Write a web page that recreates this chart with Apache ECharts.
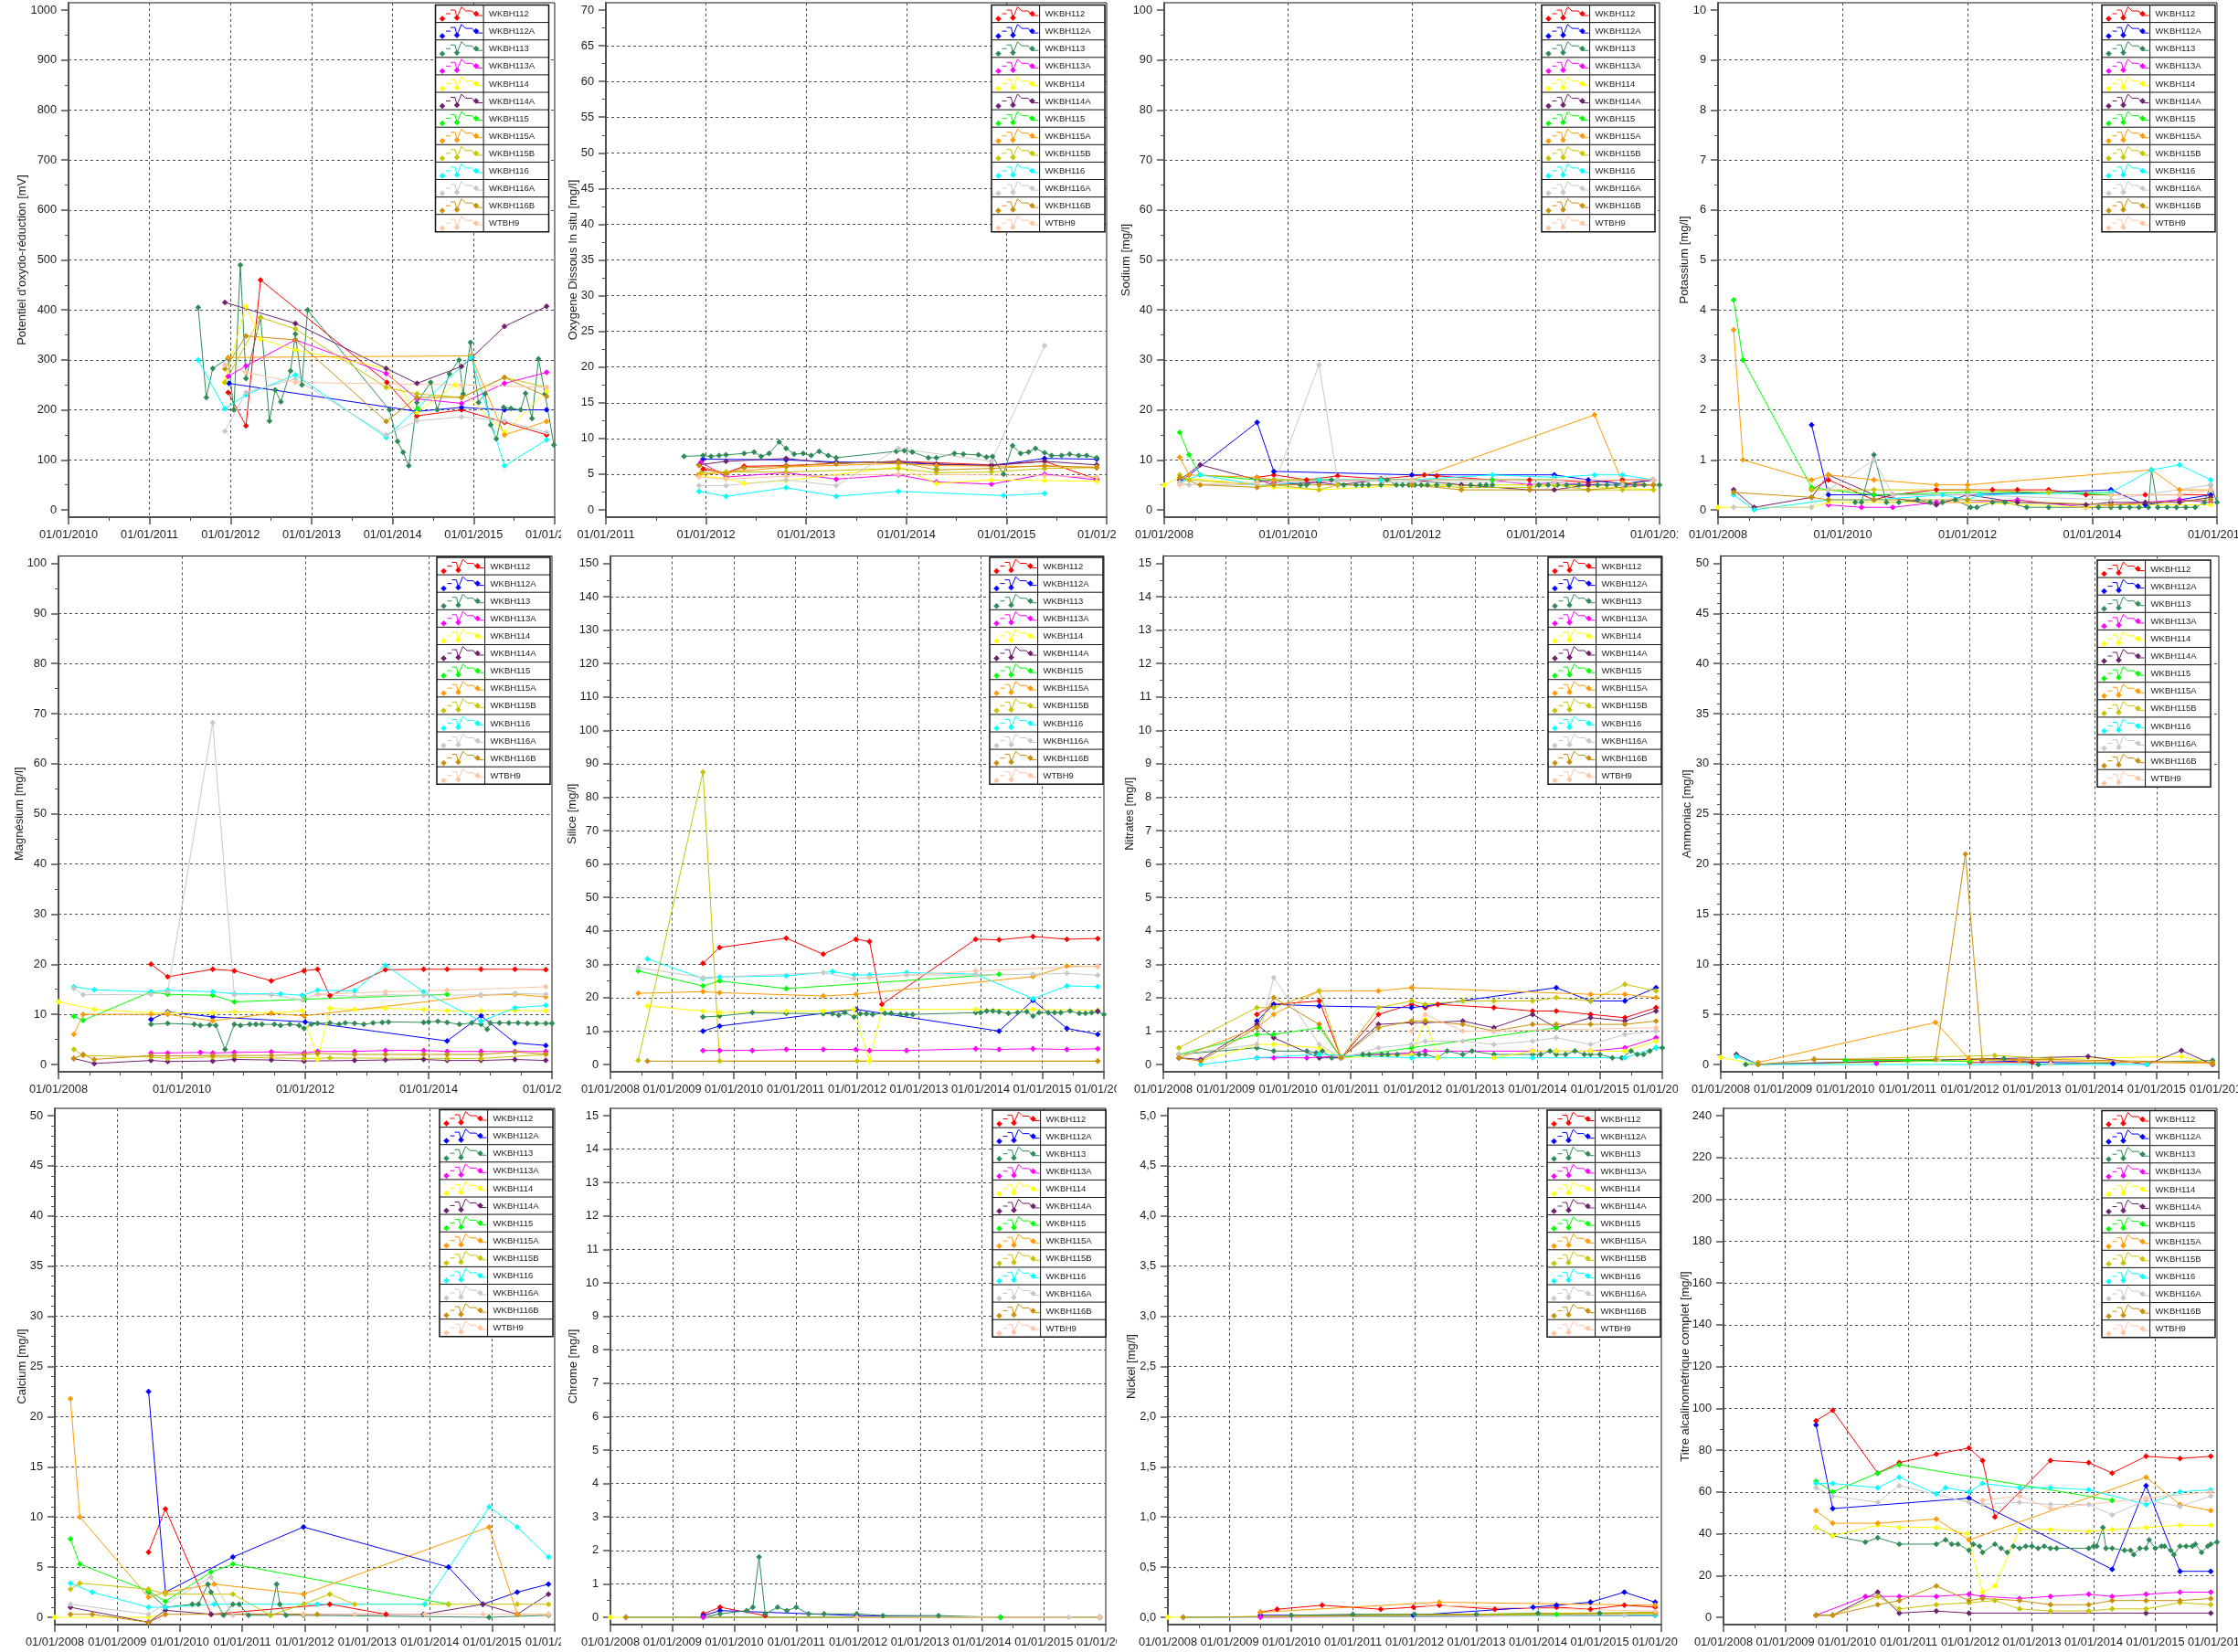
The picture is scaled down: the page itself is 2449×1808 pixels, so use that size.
<!DOCTYPE html>
<html>
<head>
<meta charset="utf-8">
<script src="https://cdn.jsdelivr.net/npm/echarts@6/dist/echarts.min.js"></script>
<style>
  html, body { margin: 0; padding: 0; background: #fff; }
  #page { position: relative; width: 2449px; height: 1808px; overflow: hidden; background: #fff; }
  .panel { position: absolute; overflow: hidden; }
</style>
</head>
<body>
<div id="page"></div>
<script>
// Monitoring wells and their colours (series order used by every data table below)
const wells = ['WKBH112','WKBH112A','WKBH113','WKBH113A','WKBH114','WKBH114A','WKBH115',
               'WKBH115A','WKBH115B','WKBH116','WKBH116A','WKBH116B','WTBH9'];
const wellColors = ['#ff0000','#0000ff','#2e8b57','#ff00ff','#ffff00','#6e2070','#00ff00',
                    '#ff9a00','#c8c400','#00ffff','#c8c8c8','#c8900a','#ffc4a4'];

// Sample dates are decimal years; each table lists one [date, value] list per well.
const redox = [
  [[2011.97,235],[2012.19,168],[2012.37,460],[2013.93,255],[2014.3,188],[2014.85,200],[2015.38,175],[2015.9,150]],
  [[2011.98,253],[2014.3,197],[2014.85,205],[2015.38,200],[2015.9,200]],
  [[2011.6,405],[2011.7,225],[2011.78,283],[2011.97,303],[2012.04,200],[2012.12,490],[2012.19,263],[2012.37,385],[2012.48,178],[2012.55,240],[2012.62,216],[2012.74,278],[2012.8,352],[2012.88,250],[2012.95,400],[2013.96,200],[2014.06,137],[2014.13,115],[2014.2,88],[2014.3,215],[2014.47,255],[2014.55,200],[2014.7,272],[2014.82,300],[2014.87,232],[2014.96,335],[2015.06,215],[2015.14,232],[2015.21,170],[2015.28,142],[2015.37,205],[2015.46,203],[2015.58,200],[2015.64,233],[2015.72,183],[2015.8,302],[2015.88,232],[2015.99,130]],
  [[2011.97,267],[2012.19,288],[2012.8,340],[2013.92,273],[2014.3,222],[2014.85,213],[2015.38,253],[2015.9,275]],
  [[2011.92,255],[2012.19,407],[2012.37,342],[2012.8,320],[2013.92,283],[2014.3,195],[2014.77,250],[2015.38,155],[2015.9,237]],
  [[2011.93,415],[2012.8,373],[2013.92,283],[2014.3,253],[2014.85,287],[2014.98,305],[2015.38,367],[2015.9,407]],
  [[2014.31,203]],
  [[2011.97,305],[2014.97,308],[2015.38,150],[2015.9,177]],
  [[2011.93,255],[2012.37,385],[2012.8,362],[2013.92,245],[2014.3,232],[2014.85,225],[2015.38,265],[2015.9,245]],
  [[2011.6,300],[2011.93,202],[2012.19,230],[2012.8,270],[2013.92,145],[2014.97,305],[2015.38,88],[2015.9,140]],
  [[2011.93,157],[2012.19,235],[2012.8,262],[2013.92,150],[2014.3,178],[2014.85,186],[2015.38,178],[2015.9,155]],
  [[2011.93,282],[2012.19,348],[2012.8,340],[2013.92,177],[2014.3,225],[2014.85,225],[2015.38,265],[2015.9,227]],
  [[2011.93,290],[2012.19,275],[2012.8,255],[2014.85,250],[2015.9,245]]
];

const oxygen = [
  [[2011.97,5.7],[2012.2,5.2],[2012.38,6.1],[2012.8,6.2],[2013.3,6.5],[2013.92,6.8],[2014.85,6.3],[2015.38,6.8],[2015.9,4.3]],
  [[2011.97,7.1],[2012.8,7.0],[2013.3,6.7],[2013.92,6.6],[2014.3,6.4],[2014.85,6.2],[2015.38,7.2],[2015.9,7.1]],
  [[2011.78,7.5],[2011.97,7.6],[2012.05,7.5],[2012.13,7.6],[2012.2,7.7],[2012.38,7.9],[2012.48,8.1],[2012.55,7.5],[2012.63,7.9],[2012.73,9.5],[2012.8,8.6],[2012.88,7.8],[2012.97,7.9],[2013.05,7.6],[2013.13,8.2],[2013.22,7.6],[2013.3,7.3],[2013.9,8.2],[2013.98,8.3],[2014.06,8.1],[2014.22,7.3],[2014.3,7.3],[2014.48,7.9],[2014.57,7.8],[2014.72,7.7],[2014.8,7.4],[2014.86,7.5],[2014.97,5.0],[2015.06,9.0],[2015.14,7.9],[2015.22,8.1],[2015.29,8.6],[2015.38,8.0],[2015.45,7.6],[2015.55,7.6],[2015.63,7.8],[2015.72,7.6],[2015.8,7.6],[2015.9,7.3]],
  [[2011.95,6.7],[2012.2,4.6],[2012.8,5.2],[2013.3,4.3],[2013.92,4.9],[2014.3,3.9],[2014.85,3.6],[2015.38,5.0],[2015.9,4.2]],
  [[2011.92,4.8],[2012.2,4.4],[2012.38,3.7],[2012.8,4.1],[2013.92,6.0],[2014.3,3.7],[2014.85,4.2],[2015.38,4.1],[2015.9,4.0]],
  [[2011.93,6.3],[2012.2,6.8],[2012.8,7.2],[2013.3,6.5],[2013.92,6.8],[2014.3,6.4],[2014.85,6.2],[2015.38,6.8],[2015.9,6.3]],
  [[2014.3,5.8]],
  [[2011.92,4.9],[2012.8,6.0],[2013.92,6.5],[2014.3,6.2],[2015.9,6.0]],
  [[2011.95,5.2],[2012.2,5.3],[2012.8,5.3],[2013.92,5.8],[2014.3,5.2],[2014.85,5.3],[2015.38,5.8],[2015.9,5.9]],
  [[2011.93,2.6],[2012.2,1.9],[2012.8,3.1],[2013.3,1.9],[2013.92,2.6],[2014.97,2.0],[2015.38,2.3]],
  [[2011.93,3.4],[2012.2,3.4],[2012.8,4.2],[2013.3,3.4],[2013.92,8.6],[2014.85,6.8],[2015.38,23]],
  [[2011.93,6.2],[2012.2,5.0],[2012.38,5.9],[2012.8,6.1],[2013.3,6.5],[2013.92,6.7],[2014.3,5.6],[2014.85,5.8],[2015.38,6.2],[2015.9,5.9]],
  [[2011.93,4.6],[2012.2,4.3],[2012.8,4.7],[2013.92,5.0],[2015.38,4.8],[2015.9,4.6]]
];

const sodium = [
  [[2009.5,6.5],[2009.77,7.0],[2010.3,6.0],[2010.8,6.8],[2011.5,6.2],[2012.2,7.0],[2012.4,6.8],[2013.3,6.0],[2013.9,6.0],[2014.3,6.0],[2014.85,5.5],[2015.4,6.0],[2015.9,6.0]],
  [[2008.25,5.5],[2009.5,17.5],[2009.77,7.7],[2012.0,7.0],[2014.3,7.0],[2014.85,6.0],[2015.4,5.2],[2015.9,6.0]],
  [[2009.5,5.5],[2009.77,6.0],[2010.2,5.0],[2010.3,5.0],[2010.5,6.0],[2010.7,6.0],[2010.9,5.0],[2011.1,5.0],[2011.2,5.0],[2011.3,5.0],[2011.5,5.0],[2011.6,6.0],[2011.75,5.0],[2011.85,5.0],[2011.95,5.0],[2012.05,5.0],[2012.15,5.0],[2012.25,5.0],[2012.4,5.0],[2012.6,5.0],[2012.8,5.0],[2012.95,5.0],[2013.1,5.0],[2013.2,5.0],[2013.3,5.0],[2013.9,5.0],[2014.05,5.0],[2014.2,5.0],[2014.35,5.0],[2014.5,5.0],[2014.7,5.0],[2014.85,5.0],[2015.0,5.0],[2015.15,5.0],[2015.3,5.0],[2015.45,5.0],[2015.6,5.0],[2015.75,5.0],[2015.9,5.0],[2016.0,5.0]],
  [[2009.5,6.0],[2009.77,5.5],[2012.0,6.0],[2013.3,6.0],[2013.9,5.0],[2014.3,5.5],[2014.85,5.0],[2015.4,5.0],[2015.9,5.0]],
  [[2008.0,5.0],[2008.25,6.5],[2009.5,5.0],[2009.77,4.5],[2010.5,4.0],[2012.0,5.0],[2014.3,5.0],[2015.9,4.0]],
  [[2008.25,6.0],[2008.58,9.0],[2009.5,6.0],[2009.77,5.0],[2010.5,5.5],[2010.8,5.0],[2011.5,6.0],[2012.0,6.0],[2012.8,5.0],[2013.9,4.0],[2014.3,4.0],[2014.85,5.0],[2015.4,5.0],[2015.9,6.0]],
  [[2008.25,15.5],[2008.4,11.0],[2008.58,7.0],[2009.5,6.0],[2009.77,6.0],[2010.5,6.0],[2011.5,6.0],[2012.0,6.0],[2013.3,6.0],[2014.3,6.0]],
  [[2008.25,10.5],[2008.4,7.0],[2009.5,6.5],[2009.77,6.0],[2012.0,6.0],[2014.95,19.0],[2015.4,5.5],[2015.9,5.0]],
  [[2008.25,7.0],[2008.4,6.0],[2009.5,5.0],[2009.77,5.0],[2010.5,4.0],[2010.8,5.0],[2012.0,5.0],[2012.8,4.5],[2013.9,4.5],[2014.3,5.0],[2014.85,4.0],[2015.4,4.0],[2015.9,4.0]],
  [[2008.25,5.5],[2008.58,7.0],[2009.5,5.0],[2009.77,5.0],[2010.5,6.0],[2010.8,6.0],[2011.5,6.0],[2012.0,6.0],[2013.3,7.0],[2014.3,6.5],[2014.95,7.0],[2015.4,7.0],[2015.9,6.0]],
  [[2008.25,5.5],[2008.4,5.0],[2009.5,5.0],[2009.77,5.0],[2010.5,29.0],[2010.8,6.0],[2012.0,5.5],[2014.3,5.5],[2015.4,5.0]],
  [[2008.25,6.5],[2008.58,5.0],[2009.5,4.5],[2009.77,5.0],[2010.5,5.0],[2012.0,5.0],[2012.8,4.0],[2013.9,4.0],[2014.85,4.0],[2015.9,5.0]],
  [[2008.25,5.0],[2009.5,5.5],[2012.0,6.0],[2014.3,6.0],[2015.9,6.0]]
];

const potassium = [
  [[2009.5,0.4],[2009.77,0.6],[2010.5,0.2],[2010.8,0.3],[2011.5,0.4],[2012.0,0.4],[2012.4,0.4],[2012.8,0.4],[2013.3,0.4],[2013.9,0.3],[2014.3,0.3],[2014.85,0.3],[2015.4,0.3],[2015.9,0.3]],
  [[2009.5,1.7],[2009.77,0.3],[2010.5,0.3],[2012.0,0.3],[2014.3,0.4],[2014.85,0.1],[2015.4,0.2],[2015.9,0.3]],
  [[2010.2,0.15],[2010.3,0.15],[2010.5,1.1],[2010.7,0.15],[2010.9,0.15],[2011.2,0.2],[2011.4,0.15],[2011.6,0.15],[2011.8,0.2],[2012.05,0.05],[2012.15,0.05],[2012.4,0.15],[2012.6,0.15],[2012.95,0.05],[2013.3,0.05],[2013.9,0.05],[2014.1,0.05],[2014.3,0.05],[2014.45,0.05],[2014.6,0.05],[2014.75,0.05],[2014.9,0.05],[2014.95,0.8],[2015.05,0.05],[2015.2,0.05],[2015.35,0.05],[2015.5,0.05],[2015.65,0.05],[2015.8,0.15],[2015.9,0.5],[2016.0,0.15]],
  [[2009.77,0.1],[2010.3,0.05],[2010.8,0.05],[2011.5,0.15],[2012.0,0.15],[2012.8,0.2],[2013.9,0.05],[2014.3,0.1],[2015.4,0.2],[2015.9,0.15]],
  [[2008.0,0.05],[2009.5,0.05],[2009.77,0.15],[2012.0,0.15],[2013.9,0.05],[2014.3,0.1],[2015.9,0.1]],
  [[2008.25,0.4],[2008.58,0.05],[2009.5,0.25],[2009.77,0.7],[2010.5,0.3],[2011.5,0.1],[2012.0,0.3],[2012.8,0.15],[2013.9,0.1],[2014.3,0.15],[2014.85,0.15],[2015.4,0.15],[2015.9,0.25]],
  [[2008.25,4.2],[2008.4,3.0],[2009.5,0.45],[2009.77,0.4],[2010.5,0.3],[2012.0,0.35],[2013.3,0.35],[2014.3,0.3]],
  [[2008.25,3.6],[2008.4,1.0],[2009.5,0.6],[2009.77,0.7],[2010.5,0.6],[2011.5,0.5],[2012.0,0.5],[2014.95,0.8],[2015.4,0.4],[2015.9,0.4]],
  [[2009.5,0.4],[2009.77,0.4],[2010.5,0.4],[2012.0,0.4],[2013.3,0.35],[2014.3,0.35]],
  [[2008.25,0.3],[2008.58,0.0],[2009.77,0.2],[2010.5,0.2],[2011.6,0.3],[2012.0,0.2],[2012.2,0.3],[2014.3,0.35],[2014.95,0.8],[2015.4,0.9],[2015.9,0.6]],
  [[2008.25,0.05],[2009.5,0.05],[2009.77,0.4],[2010.5,1.0],[2010.8,0.3],[2012.0,0.3],[2014.3,0.2],[2015.9,0.5]],
  [[2008.25,0.35],[2009.5,0.25],[2009.77,0.2],[2010.5,0.2],[2012.0,0.2],[2014.3,0.1],[2015.9,0.2]],
  [[2014.3,0.3],[2015.4,0.3],[2015.9,0.4]]
];

const magnesium = [
  [[2009.5,20],[2009.77,17.5],[2010.5,19],[2010.85,18.7],[2011.45,16.7],[2011.98,18.7],[2012.2,19],[2012.4,13.7],[2013.3,18.9],[2013.92,19],[2014.3,19],[2014.85,19],[2015.4,19],[2015.9,18.9]],
  [[2009.5,9],[2009.77,10.5],[2010.5,9.5],[2012.0,8.5],[2014.3,4.7],[2014.85,9.7],[2015.4,4.3],[2015.9,3.8]],
  [[2009.5,8],[2009.77,8.2],[2010.2,8],[2010.3,7.8],[2010.45,7.9],[2010.55,7.8],[2010.7,3.0],[2010.85,8],[2010.95,7.8],[2011.1,8.0],[2011.2,8.0],[2011.3,8.0],[2011.5,8.0],[2011.6,7.8],[2011.75,8.0],[2011.9,7.8],[2011.98,7.2],[2012.1,8.0],[2012.2,8.2],[2012.4,8.3],[2012.55,8.0],[2012.65,8.3],[2012.8,8.2],[2012.95,8.0],[2013.1,8.3],[2013.25,8.4],[2013.35,8.5],[2013.92,8.4],[2014.0,8.5],[2014.15,8.6],[2014.3,8.4],[2014.5,8.0],[2014.7,8.3],[2014.85,8.0],[2014.95,7.0],[2015.0,8.3],[2015.15,8.3],[2015.3,8.3],[2015.45,8.3],[2015.6,8.2],[2015.75,8.2],[2015.9,8.2],[2016.0,8.2]],
  [[2009.5,2.3],[2009.77,2.3],[2010.3,2.4],[2010.5,2.3],[2010.85,2.4],[2011.45,2.5],[2011.98,2.3],[2012.2,2.6],[2012.8,2.6],[2013.3,2.8],[2013.92,2.8],[2014.3,2.6],[2014.85,2.6],[2015.4,2.6],[2015.9,2.6]],
  [[2008.0,12.5],[2008.58,11],[2009.5,10.3],[2009.77,10.3],[2010.5,10.3],[2010.85,10.5],[2011.45,10.3],[2011.95,10.7],[2012.2,1.0],[2012.4,11.2],[2012.8,11],[2013.3,11.2],[2013.92,11],[2014.3,10.7],[2014.85,10.7],[2015.4,10.8],[2015.9,10.7]],
  [[2008.25,1.2],[2008.58,0.2],[2009.5,0.8],[2009.77,0.6],[2010.5,0.7],[2010.85,1.0],[2011.45,0.9],[2011.98,0.7],[2012.8,0.8],[2013.3,0.9],[2013.92,1.0],[2014.3,0.8],[2014.85,0.8],[2015.4,1.0],[2015.9,0.8]],
  [[2008.25,9.6],[2008.4,8.8],[2009.5,14.5],[2009.77,14],[2010.5,13.8],[2010.85,12.5],[2011.98,13],[2014.3,14]],
  [[2008.25,6.0],[2008.4,10],[2009.5,10],[2009.77,10],[2010.5,8.7],[2011.45,10.2],[2011.98,9.7],[2014.85,13.8],[2015.4,14],[2015.9,13.5]],
  [[2008.25,3.0],[2008.4,1.8],[2009.5,1.5],[2009.77,1.2],[2010.5,1.5],[2011.98,1.2],[2012.4,1.3],[2014.3,1.2],[2014.85,1.2],[2015.9,2.0]],
  [[2008.25,15.5],[2008.58,14.9],[2009.5,14.5],[2009.77,14.8],[2010.5,14.5],[2010.85,14.1],[2011.6,14.1],[2011.95,13.8],[2012.2,14.8],[2012.8,14.7],[2013.3,19.8],[2013.92,14.5],[2014.85,8.6],[2015.4,11.3],[2015.9,11.8]],
  [[2008.25,15.2],[2008.4,13.9],[2009.5,14],[2009.77,14.5],[2010.5,68.2],[2010.85,13.9],[2011.45,13.9],[2011.95,12.9],[2012.2,14],[2012.8,13.6],[2013.3,13.9],[2013.92,13.8],[2014.85,13.9],[2015.4,14.2],[2015.9,14]],
  [[2008.25,1.2],[2008.4,2.0],[2008.58,1.0],[2009.5,1.8],[2009.77,1.7],[2010.5,1.8],[2010.85,1.8],[2011.45,1.8],[2011.98,2.0],[2012.2,2.2],[2012.8,2.0],[2013.3,2.0],[2013.92,2.0],[2014.3,2.0],[2014.85,2.0],[2015.4,2.5],[2015.9,2.1]],
  [[2012.2,14],[2013.3,14.5],[2014.3,14.8],[2015.9,15.5]]
];

const silica = [
  [[2009.5,30.3],[2009.77,35],[2010.85,37.8],[2011.45,33],[2011.98,37.5],[2012.2,36.8],[2012.4,18],[2013.92,37.5],[2014.3,37.3],[2014.85,38.3],[2015.4,37.5],[2015.9,37.7]],
  [[2009.5,10],[2009.77,11.5],[2011.98,16.5],[2014.3,10],[2014.85,19.2],[2015.4,10.8],[2015.9,9]],
  [[2009.5,14.2],[2009.77,14.5],[2010.3,15.5],[2010.85,15.3],[2011.45,15.2],[2011.6,15.2],[2011.7,14.8],[2011.8,15.5],[2011.95,14.2],[2012.05,15.2],[2012.15,15.2],[2012.25,15],[2012.45,15.3],[2012.55,15.3],[2012.7,15],[2012.8,15],[2012.9,15],[2013.92,15.5],[2014.0,15.5],[2014.1,16],[2014.2,16],[2014.3,15.8],[2014.45,15.3],[2014.6,15.5],[2014.75,15.8],[2014.85,14.5],[2014.95,15.5],[2015.1,15.5],[2015.2,15.5],[2015.3,15.5],[2015.45,16],[2015.6,15.3],[2015.7,15.3],[2015.8,15.5],[2015.9,15.8],[2016.0,15]],
  [[2009.5,4.2],[2009.77,4.2],[2010.3,4.2],[2010.85,4.5],[2011.45,4.5],[2011.98,4.5],[2012.2,4.2],[2012.8,4.2],[2013.92,4.7],[2014.3,4.5],[2014.85,4.7],[2015.4,4.5],[2015.9,4.7]],
  [[2008.6,17.5],[2009.5,16],[2009.77,15.5],[2010.85,16],[2011.45,16],[2011.95,16.5],[2012.2,1.0],[2012.4,16.5],[2013.92,16.5],[2014.85,16.5],[2015.9,16.2]],
  [[2015.9,16]],
  [[2008.45,28],[2009.5,23.5],[2009.77,25],[2010.85,22.7],[2014.3,27]],
  [[2008.45,21.3],[2009.5,21.8],[2009.77,21.5],[2011.45,20.5],[2011.98,21],[2014.85,26.3],[2015.4,29.5],[2015.9,29.3]],
  [[2008.45,1.2],[2009.5,87.5],[2009.77,1.0],[2012.0,1.0],[2015.9,1.0]],
  [[2008.6,31.6],[2009.5,25.7],[2009.77,26.2],[2010.85,26.5],[2011.6,27.8],[2011.95,26.8],[2012.2,26.8],[2012.8,27.5],[2013.92,27],[2014.85,19.7],[2015.4,23.5],[2015.9,23.3]],
  [[2008.45,29],[2009.5,26],[2011.45,27.5],[2011.95,25.7],[2012.8,26.8],[2013.92,26.8],[2014.85,27],[2015.4,27.3],[2015.9,26.7]],
  [[2008.6,1.0],[2015.9,1.0]],
  [[2012.2,26],[2013.92,28],[2015.9,29.5]]
];

const nitrates = [
  [[2009.5,1.5],[2009.77,1.8],[2010.5,1.9],[2010.85,0.2],[2011.45,1.5],[2011.98,1.8],[2012.2,1.7],[2012.4,1.8],[2013.3,1.7],[2013.92,1.6],[2014.3,1.6],[2014.85,1.5],[2015.4,1.4],[2015.9,1.7]],
  [[2009.5,1.3],[2009.77,1.8],[2010.5,1.75],[2011.98,1.7],[2012.2,1.75],[2014.3,2.3],[2014.85,1.9],[2015.4,1.9],[2015.9,2.3]],
  [[2008.25,0.3],[2009.5,0.5],[2009.77,0.4],[2010.3,0.4],[2010.45,0.35],[2010.55,0.4],[2010.7,0.2],[2010.85,0.2],[2011.2,0.3],[2011.3,0.3],[2011.5,0.3],[2011.6,0.3],[2011.75,0.3],[2011.98,0.3],[2012.1,0.3],[2012.2,0.3],[2012.4,0.2],[2012.55,0.4],[2012.8,0.3],[2012.95,0.4],[2013.3,0.3],[2013.92,0.3],[2014.05,0.3],[2014.2,0.4],[2014.3,0.3],[2014.45,0.3],[2014.6,0.4],[2014.75,0.3],[2014.85,0.3],[2015.0,0.3],[2015.2,0.2],[2015.35,0.2],[2015.5,0.4],[2015.6,0.3],[2015.7,0.3],[2015.8,0.4],[2015.9,0.5],[2016.0,0.5]],
  [[2009.5,0.2],[2009.77,0.2],[2010.3,0.2],[2011.98,0.35],[2012.2,0.4],[2013.92,0.4],[2014.3,0.4],[2014.85,0.4],[2015.4,0.5],[2015.9,0.8]],
  [[2008.6,0.1],[2009.5,0.6],[2009.77,0.6],[2010.5,0.5],[2010.85,0.2],[2011.98,0.3],[2012.2,1.35],[2012.4,0.2],[2013.3,0.2],[2013.92,0.4],[2014.3,0.4],[2014.85,0.4],[2015.4,0.4],[2015.9,0.7]],
  [[2008.25,0.2],[2008.6,0.15],[2009.5,1.2],[2009.77,0.8],[2010.5,0.2],[2010.85,0.2],[2011.45,1.2],[2011.98,1.25],[2012.2,1.25],[2012.8,1.3],[2013.3,1.1],[2013.92,1.5],[2014.3,1.1],[2014.85,1.4],[2015.4,1.3],[2015.9,1.6]],
  [[2008.25,0.3],[2009.5,0.9],[2009.77,0.9],[2010.5,1.1],[2010.85,0.2],[2011.98,0.5],[2014.3,1.1]],
  [[2008.25,0.2],[2009.5,1.1],[2009.77,1.5],[2010.5,2.2],[2011.45,2.2],[2011.98,2.3],[2014.85,2.1],[2015.4,2.1],[2015.9,2.0]],
  [[2008.25,0.5],[2009.5,1.7],[2009.77,1.7],[2010.5,2.2],[2010.85,0.2],[2011.45,1.7],[2011.98,1.9],[2012.2,1.8],[2012.8,1.9],[2013.3,1.9],[2013.92,1.9],[2014.3,2.0],[2014.85,1.9],[2015.4,2.4],[2015.9,2.2]],
  [[2008.6,0.0],[2009.5,0.2],[2010.5,0.3],[2011.98,0.2],[2013.92,0.2],[2015.4,0.2],[2015.9,0.5]],
  [[2008.25,0.3],[2009.5,0.6],[2009.77,2.6],[2010.5,0.6],[2010.85,0.2],[2011.45,0.5],[2011.98,0.6],[2012.2,0.7],[2012.8,0.7],[2013.3,0.6],[2013.92,0.7],[2014.3,0.8],[2014.85,0.6],[2015.4,0.9],[2015.9,1.0]],
  [[2008.25,0.2],[2008.6,0.1],[2009.5,1.1],[2009.77,2.0],[2010.5,1.2],[2010.85,0.2],[2011.45,1.1],[2011.98,1.3],[2012.2,1.3],[2012.8,1.2],[2013.3,1.0],[2013.92,1.2],[2014.3,1.2],[2014.85,1.2],[2015.4,1.2],[2015.9,1.3]],
  [[2011.98,1.0],[2012.2,1.5],[2012.8,1.0],[2013.3,1.0],[2015.9,1.1]]
];

const ammonia = [
  [[2012.0,0.2],[2013.0,0.2]],
  [[2012.2,0.4],[2013.3,0.2],[2014.3,0.1]],
  [[2008.4,0.0],[2012.55,0.6],[2013.1,0.0],[2015.9,0.4]],
  [[2010.5,0.1]],
  [[2008.0,0.7],[2008.6,0.0],[2015.4,0.8],[2015.9,0.1]],
  [[2008.25,1.0],[2008.6,0.0],[2013.9,0.8],[2014.85,0.0],[2015.4,1.4],[2015.9,0.0]],
  [[2010.0,0.4],[2011.0,0.4],[2012.0,0.3]],
  [[2008.6,0.2],[2011.45,4.2],[2011.98,0.6],[2012.8,0.4],[2015.9,0.1]],
  [[2009.5,0.5],[2012.4,0.9],[2013.3,0.6]],
  [[2008.25,0.8],[2008.6,0.0],[2014.85,0.0]],
  [[2009.5,0.6],[2011.5,0.5]],
  [[2008.6,0.0],[2009.5,0.5],[2011.45,0.5],[2011.93,21],[2012.2,0.5],[2013.3,0.5],[2015.9,0.2]],
  [[2013.3,0.1]]
];

const calcium = [
  [[2009.5,6.5],[2009.77,10.8],[2010.5,0.3],[2012.4,1.3],[2013.3,0.3]],
  [[2009.5,22.5],[2009.77,2.5],[2010.85,6.0],[2011.98,9.0],[2014.3,5.0],[2014.85,1.3],[2015.4,2.5],[2015.9,3.3]],
  [[2009.5,2.5],[2009.77,1.0],[2010.2,1.3],[2010.3,1.3],[2010.45,3.3],[2010.5,2.5],[2010.7,0.2],[2010.85,1.3],[2010.95,1.3],[2011.1,0.2],[2011.45,0.2],[2011.55,3.3],[2011.6,1.3],[2011.7,0.2],[2011.98,0.2],[2014.95,0.0],[2015.9,0.2]],
  [[2009.5,-0.5],[2009.77,0.3]],
  [[2008.0,0.0],[2009.5,0.0],[2009.77,0.3]],
  [[2008.25,1.0],[2009.5,-0.5],[2009.77,0.7],[2010.5,0.3],[2013.9,0.3],[2014.85,1.3],[2015.4,0.3],[2015.9,2.3]],
  [[2008.25,7.8],[2008.4,5.3],[2009.5,2.6],[2009.77,1.6],[2010.5,4.5],[2010.85,5.3],[2014.3,1.3]],
  [[2008.25,21.8],[2008.4,10.0],[2009.5,2.0],[2009.77,2.5],[2010.55,3.3],[2011.98,2.3],[2014.95,9.0],[2015.4,0.3],[2015.9,0.3]],
  [[2008.25,2.8],[2008.4,3.4],[2009.5,2.8],[2009.77,2.3],[2010.85,2.3],[2011.45,0.2],[2011.98,1.3],[2012.4,2.3],[2012.8,1.3],[2013.92,1.3],[2014.3,1.3],[2015.4,1.3],[2015.9,1.3]],
  [[2008.25,3.4],[2008.6,2.5],[2009.5,1.0],[2009.77,1.0],[2010.55,1.3],[2012.2,1.3],[2013.92,1.3],[2014.95,11.0],[2015.4,9.0],[2015.9,6.0]],
  [[2008.25,1.3],[2009.5,0.3],[2010.5,4.0],[2010.85,0.2]],
  [[2008.25,0.3],[2008.6,0.3],[2009.5,-0.5],[2009.77,0.3],[2011.98,0.3],[2012.2,0.3]],
  [[2011.98,0.3],[2012.8,0.3],[2013.92,0.3],[2014.85,0.3],[2015.9,0.3]]
];

const chromium = [
  [[2009.5,0.1],[2009.77,0.3],[2010.5,0.05]],
  [[2009.5,0.05],[2009.77,0.2],[2011.98,0.05],[2014.3,0.0],[2015.9,0.0]],
  [[2009.5,0.0],[2009.77,0.1],[2010.2,0.2],[2010.3,0.3],[2010.4,1.8],[2010.5,0.1],[2010.7,0.3],[2010.85,0.2],[2011.0,0.3],[2011.2,0.1],[2011.45,0.1],[2011.98,0.1],[2012.4,0.05],[2013.3,0.05],[2014.3,0.0],[2015.9,0.0]],
  [[2009.5,0.0],[2015.9,0.0]],
  [[2008.0,0.0],[2015.9,0.0]],
  [[2008.25,0.0],[2015.9,0.0]],
  [[2008.25,0.0],[2014.3,0.0]],
  [[2008.25,0.0],[2015.9,0.0]],
  [[2008.25,0.0],[2015.9,0.0]],
  [[2008.25,0.0],[2015.9,0.0]],
  [[2008.25,0.0],[2015.4,0.0]],
  [[2008.25,0.0],[2015.9,0.0]],
  [[2011.98,0.0],[2015.9,0.0]]
];

const nickel = [
  [[2009.5,0.05],[2009.77,0.08],[2010.5,0.12],[2011.45,0.08],[2011.98,0.1],[2012.4,0.12],[2013.3,0.08],[2014.3,0.1],[2014.85,0.08],[2015.4,0.12],[2015.9,0.1]],
  [[2009.5,0.02],[2011.98,0.02],[2013.92,0.1],[2014.3,0.12],[2014.85,0.15],[2015.4,0.25],[2015.9,0.15]],
  [[2010.0,0.02],[2011.0,0.03],[2012.0,0.03],[2013.0,0.03],[2014.0,0.04],[2015.0,0.04],[2015.9,0.05]],
  [[2009.5,0.0],[2015.9,0.02]],
  [[2008.0,0.0],[2015.9,0.03]],
  [[2008.25,0.0],[2015.9,0.02]],
  [[2008.25,0.0],[2014.3,0.03]],
  [[2009.5,0.05],[2012.4,0.15],[2015.9,0.12]],
  [[2008.25,0.0],[2015.9,0.05]],
  [[2008.25,0.0],[2015.9,0.02]],
  [[2008.25,0.0],[2015.4,0.02]],
  [[2008.25,0.0],[2015.9,0.04]],
  [[2012.2,0.12],[2015.9,0.06]]
];

const alkalinity = [
  [[2009.5,94],[2009.77,99],[2010.5,69],[2010.85,74],[2011.45,78],[2011.98,81],[2012.2,75],[2012.4,48],[2013.3,75],[2013.92,74],[2014.3,69],[2014.85,77],[2015.4,76],[2015.9,77]],
  [[2009.5,92],[2009.77,52],[2011.98,57],[2014.3,23],[2014.85,63],[2015.4,22],[2015.9,22]],
  [[2009.5,43],[2009.77,39],[2010.3,36],[2010.5,38],[2010.85,35],[2011.45,35],[2011.6,37],[2011.7,35],[2011.8,35],[2011.98,32],[2012.05,35],[2012.15,34],[2012.2,31],[2012.4,35],[2012.5,33],[2012.6,31],[2012.7,34],[2012.8,33],[2012.9,34],[2013.0,34],[2013.1,33],[2013.2,34],[2013.3,33],[2013.4,33],[2013.92,33],[2014.0,34],[2014.05,34],[2014.15,43],[2014.2,33],[2014.3,33],[2014.5,32],[2014.6,32],[2014.65,30],[2014.75,33],[2014.85,33],[2014.9,37],[2015.0,33],[2015.1,34],[2015.15,34],[2015.25,32],[2015.3,30],[2015.4,34],[2015.5,34],[2015.6,34],[2015.65,35],[2015.75,31],[2015.85,34],[2015.9,35],[2016.0,36]],
  [[2009.5,1],[2010.3,10],[2010.85,10],[2011.45,10],[2011.98,11],[2012.2,10],[2012.8,9],[2013.3,10],[2013.92,11],[2014.3,10],[2014.85,11],[2015.4,12],[2015.9,12]],
  [[2009.5,43],[2009.77,39],[2010.5,44],[2010.85,43],[2011.45,43],[2011.95,40],[2012.2,12],[2012.4,15],[2012.8,42],[2013.3,42],[2013.92,41],[2014.3,42],[2014.85,43],[2015.4,44],[2015.9,44]],
  [[2009.5,1],[2009.77,1],[2010.5,12],[2010.85,2],[2011.45,3],[2011.98,2],[2014.85,2],[2015.9,2]],
  [[2009.5,65],[2009.77,60],[2010.5,69],[2010.85,73],[2014.3,56]],
  [[2009.5,51],[2009.77,45],[2010.5,45],[2011.45,47],[2011.98,37],[2014.85,67],[2015.4,54],[2015.9,51]],
  [[2009.5,1],[2009.77,1],[2010.5,10],[2010.85,4],[2011.45,6],[2011.98,7],[2012.4,8],[2012.8,4],[2013.3,3],[2013.92,3],[2014.3,4],[2014.85,4],[2015.4,7],[2015.9,6]],
  [[2009.5,64],[2009.77,64],[2010.5,62],[2010.85,67],[2011.45,59],[2011.6,62],[2011.98,60],[2012.2,64],[2012.8,62],[2013.3,62],[2013.92,61],[2014.85,54],[2015.4,60],[2015.9,61]],
  [[2009.5,62],[2009.77,58],[2010.5,55],[2010.85,63],[2011.98,55],[2012.2,54],[2012.8,55],[2013.3,54],[2013.92,54],[2014.3,49],[2014.85,56],[2015.4,53],[2015.9,58]],
  [[2009.5,1],[2009.77,1],[2010.5,6],[2010.85,8],[2011.45,15],[2011.98,8],[2012.2,9],[2012.8,8],[2013.3,6],[2013.92,6],[2014.3,8],[2014.85,8],[2015.4,8],[2015.9,9]],
  [[2012.2,56],[2012.8,58],[2013.3,52],[2014.85,57],[2015.9,60]]
];

// Page grid of the twelve panels (pixels)
const cols = [{x: 0, w: 614}, {x: 614, w: 608}, {x: 1222, w: 614}, {x: 1836, w: 613}];
const rows = [{y: 0, h: 600}, {y: 600, h: 605}, {y: 1205, h: 603}];

// Per panel: axis ranges [min, max, interval, minor splits], plot frame [left, right, top, bottom]
// and legend top-left corner, all in page pixels.
const panels = [
  {title: "Potentiel d'oxydo-réduction [mV]", data: redox, col: 0, row: 0, x: [2010, 2016, 1, 2], y: [0, 1000, 100, 2], frame: [75, 607, 3, 566], legend: [476.5, 5.5], titleX: 24},
  {title: 'Oxygene Dissous In situ [mg/l]', data: oxygen, col: 1, row: 0, x: [2011, 2016, 1, 2], y: [0, 70, 5, 2], frame: [663, 1211, 3, 566], legend: [1085, 5.5], titleX: 627},
  {title: 'Sodium [mg/l]', data: sodium, col: 2, row: 0, x: [2008, 2016, 2, 4], y: [0, 100, 10, 2], frame: [1274, 1816, 3, 566], legend: [1687, 5.5], titleX: 1232},
  {title: 'Potassium [mg/l]', data: potassium, col: 3, row: 0, x: [2008, 2016, 2, 4], y: [0, 10, 1, 2], frame: [1880, 2426, 3, 566], legend: [2300, 5.5], titleX: 1843},
  {title: 'Magnésium [mg/l]', data: magnesium, col: 0, row: 1, x: [2008, 2016, 2, 4], y: [0, 100, 10, 2], frame: [64, 604, 608.5, 1173], legend: [478, 610], titleX: 21},
  {title: 'Silice [mg/l]', data: silica, col: 1, row: 1, x: [2008, 2016, 1, 2], y: [0, 150, 10, 2], frame: [668, 1208, 608.5, 1173], legend: [1083, 610], titleX: 626},
  {title: 'Nitrates [mg/l]', data: nitrates, col: 2, row: 1, x: [2008, 2016, 1, 2], y: [0, 15, 1, 2], frame: [1273, 1819, 608.5, 1173], legend: [1694, 610], titleX: 1236},
  {title: 'Ammoniac [mg/l]', data: ammonia, col: 3, row: 1, x: [2008, 2016, 1, 2], y: [0, 50, 5, 5], frame: [1883, 2428, 608.5, 1173], legend: [2295, 613], titleX: 1846},
  {title: 'Calcium [mg/l]', data: calcium, col: 0, row: 2, x: [2008, 2016, 1, 2], y: [0, 50, 5, 5], frame: [60, 607, 1213, 1778], legend: [481, 1214.5], titleX: 24},
  {title: 'Chrome [mg/l]', data: chromium, col: 1, row: 2, x: [2008, 2016, 1, 2], y: [0, 15, 1, 2], frame: [668, 1210, 1213, 1778], legend: [1086, 1215], titleX: 627},
  {title: 'Nickel [mg/l]', data: nickel, col: 2, row: 2, x: [2008, 2016, 1, 2], y: [0, 5, 0.5, 5], frame: [1278, 1818, 1213, 1778], legend: [1693, 1215], titleX: 1238, comma: true},
  {title: 'Titre alcalinométrique complet [mg/l]', data: alkalinity, col: 3, row: 2, x: [2008, 2016, 1, 2], y: [0, 240, 20, 2], frame: [1886, 2426, 1213, 1778], legend: [2300, 1215.5], titleX: 1844}
];

// Tick labels use a tall, narrow face when one is installed
function fontAvailable(name) {
  const c = document.createElement('canvas').getContext('2d');
  const s = 'WKBH01/01/2010 mgl';
  c.font = '40px monospace';
  const a = c.measureText(s).width;
  c.font = '40px "' + name + '", monospace';
  return c.measureText(s).width !== a;
}
let tickFont = {family: '"Liberation Sans", Arial, sans-serif', size: 12.8};
if (fontAvailable('Liberation Sans Narrow')) {
  tickFont = {family: '"Liberation Sans Narrow", "Liberation Sans", sans-serif', size: 15.5};
}
const titleFont = {family: '"Liberation Sans", Arial, sans-serif', size: 13};

const AXIS = '#505050', GRID = '#505050', TEXT = '#1e1e1e';
const PAD = 8;           // gap between the frame and the first/last value of the y axis
const LEG_W = 124, LEG_ROW = 19.1, LEG_DIV = 52.6;

function diamond(cx, cy, r, color) {
  return {type: 'polygon', silent: true, z: 101,
    shape: {points: [[cx, cy - r], [cx + r, cy], [cx, cy + r], [cx - r, cy]]},
    style: {fill: color, stroke: color, lineWidth: 0.5}};
}

function legendElements(lx, ly) {
  const els = [];
  const H = LEG_ROW * wells.length;
  els.push({type: 'rect', silent: true, z: 100, shape: {x: lx, y: ly, width: LEG_W, height: H},
            style: {fill: '#fff', stroke: '#111', lineWidth: 1.5}});
  wells.forEach((name, i) => {
    const y0 = ly + i * LEG_ROW, c = wellColors[i];
    if (i > 0) els.push({type: 'line', silent: true, z: 101, shape: {x1: lx, y1: y0, x2: lx + LEG_W, y2: y0},
                         style: {stroke: '#111', lineWidth: 1}});
    const p = (dx, dy) => [lx + dx, y0 + dy];
    els.push({type: 'line', silent: true, z: 101, shape: {x1: lx + 11.5, y1: y0 + 9.5, x2: lx + 16.5, y2: y0 + 9.5},
              style: {stroke: c, lineWidth: 1}});
    els.push({type: 'polyline', silent: true, z: 101,
              shape: {points: [p(16.5, 5.5), p(21.5, 5.5), p(23.5, 14), p(28.5, 2), p(33, 6.5), p(40, 6.5), p(44.5, 11.5), p(51.5, 11.5)]},
              style: {stroke: c, lineWidth: 1, fill: null}});
    els.push(diamond(lx + 7.5, y0 + 15, 3, c));
    els.push(diamond(lx + 23.5, y0 + 14, 3, c));
    els.push(diamond(lx + 44.5, y0 + 9.5, 3, c));
    els.push({type: 'text', silent: true, z: 101, x: lx + LEG_DIV + 6, y: y0 + LEG_ROW / 2 + 0.5,
              style: {text: name, fill: TEXT, font: '9.5px "Liberation Sans", Arial, sans-serif',
                      align: 'left', verticalAlign: 'middle'}});
  });
  els.push({type: 'line', silent: true, z: 101, shape: {x1: lx + LEG_DIV, y1: ly, x2: lx + LEG_DIV, y2: ly + H},
            style: {stroke: '#111', lineWidth: 1}});
  return els;
}

function buildOption(p, box) {
  const [fl, fr, ft, fb] = p.frame;
  const gl = fl - box.x, gr = box.x + box.w - fr, gt = ft - box.y, gb = box.y + box.h - fb;
  const [xmin, xmax, xint, xminor] = p.x;
  const [ymin, ymax, yint, yminor] = p.y;
  const yFmt = p.comma ? (v => v.toFixed(1).replace('.', ',')) : (v => String(Math.round(v)));
  const dashed = {type: [3, 3], color: GRID, width: 1};
  const labelStyle = {color: TEXT, fontFamily: tickFont.family, fontSize: tickFont.size};

  const series = p.data.map((pts, i) => ({
    type: 'line', name: wells[i], xAxisIndex: 1, yAxisIndex: 1, data: pts,
    symbol: 'diamond', symbolSize: 6.5, showSymbol: true, clip: false, z: 3,
    lineStyle: {color: wellColors[i], width: 1}, itemStyle: {color: wellColors[i]},
    emphasis: {disabled: true}, silent: true
  }));

  const graphic = legendElements(p.legend[0] - box.x, p.legend[1] - box.y);
  graphic.push({type: 'text', silent: true, z: 50, x: p.titleX - box.x, y: (ft + fb) / 2 - box.y,
                rotation: Math.PI / 2,
                style: {text: p.title, fill: TEXT, font: titleFont.size + 'px ' + titleFont.family,
                        align: 'center', verticalAlign: 'middle'}});

  return {
    animation: false,
    grid: [
      {left: gl, right: gr, top: gt, bottom: gb, show: true, borderColor: '#1a1a1a', borderWidth: 1,
       backgroundColor: 'transparent', containLabel: false, outerBoundsMode: 'none'},
      {left: gl, right: gr, top: gt + PAD, bottom: gb + PAD, containLabel: false, outerBoundsMode: 'none'}
    ],
    xAxis: [
      {gridIndex: 0, type: 'value', min: xmin, max: xmax, interval: xint,
       axisLine: {show: true, lineStyle: {color: AXIS, width: 2}},
       axisTick: {show: true, length: 8, lineStyle: {color: AXIS, width: 1.5}},
       minorTick: {show: true, splitNumber: xminor, length: 4, lineStyle: {color: AXIS, width: 1}},
       splitLine: {show: true, showMinLine: false, showMaxLine: false, lineStyle: dashed},
       axisLabel: Object.assign({formatter: v => '01/01/' + Math.round(v), margin: 13, hideOverlap: false}, labelStyle)},
      {gridIndex: 1, type: 'value', min: xmin, max: xmax, show: false}
    ],
    yAxis: [
      {gridIndex: 0, type: 'value', min: 0, max: 1,
       axisLine: {show: true, lineStyle: {color: AXIS, width: 2}},
       axisTick: {show: false}, axisLabel: {show: false}, splitLine: {show: false}},
      {gridIndex: 1, type: 'value', min: ymin, max: ymax, interval: yint,
       axisLine: {show: false},
       axisTick: {show: true, length: 8, lineStyle: {color: AXIS, width: 1.5}},
       minorTick: {show: true, splitNumber: yminor, length: 4, lineStyle: {color: AXIS, width: 1}},
       splitLine: {show: true, showMinLine: false, showMaxLine: false, lineStyle: dashed},
       axisLabel: Object.assign({formatter: yFmt, margin: 13}, labelStyle)}
    ],
    series: series,
    graphic: {elements: graphic}
  };
}

const page = document.getElementById('page');
panels.forEach(p => {
  const c = cols[p.col], r = rows[p.row];
  const box = {x: c.x, y: r.y, w: c.w, h: r.h};
  const div = document.createElement('div');
  div.className = 'panel';
  div.style.left = box.x + 'px';
  div.style.top = box.y + 'px';
  div.style.width = box.w + 'px';
  div.style.height = box.h + 'px';
  page.appendChild(div);
  const chart = echarts.init(div, null, {renderer: 'canvas', width: box.w, height: box.h});
  chart.setOption(buildOption(p, box));
});
</script>
</body>
</html>
